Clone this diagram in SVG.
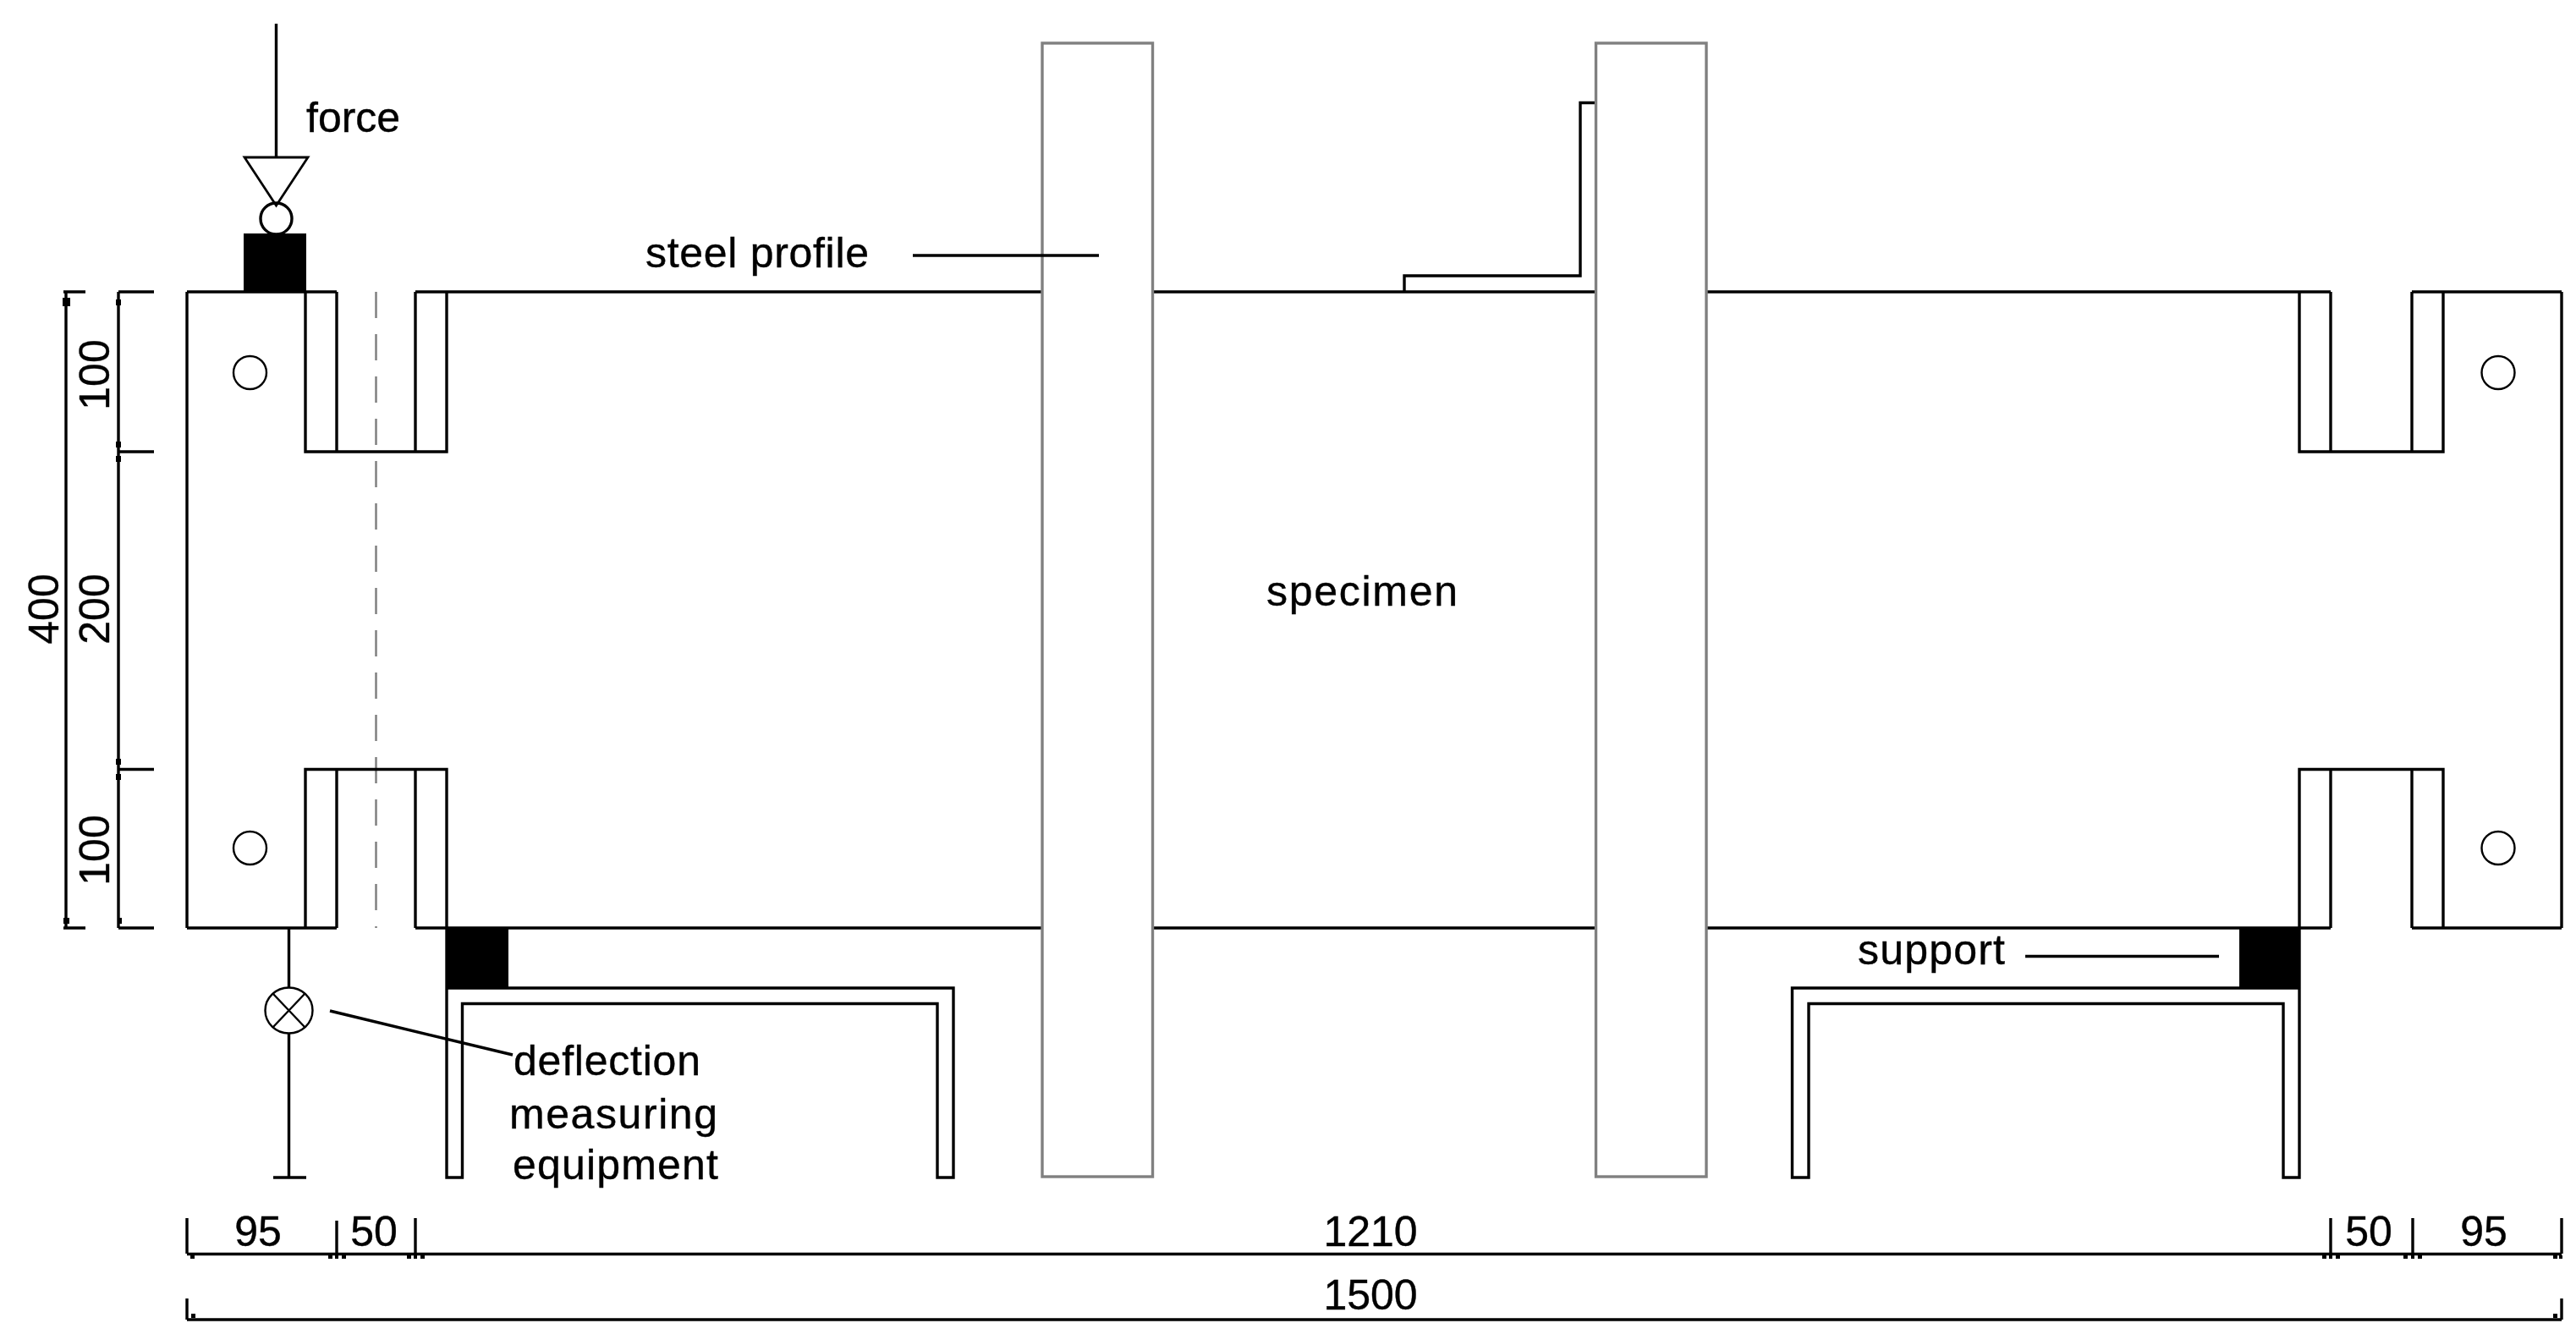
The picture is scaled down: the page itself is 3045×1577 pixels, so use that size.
<svg xmlns="http://www.w3.org/2000/svg" width="3045" height="1577" viewBox="0 0 3045 1577">
<style>
text{font-family:"Liberation Sans",Arial,sans-serif;font-size:50px;fill:#000;stroke:#000;stroke-width:.4}
.l{fill:none;stroke:#000;stroke-width:3.4}
.t{fill:none;stroke:#000;stroke-width:2.4}
.k{fill:#000;stroke:none}
.col{fill:#fff;stroke:#808080;stroke-width:3.4}
.cl{fill:none;stroke:#808080;stroke-width:2.5;stroke-dasharray:31 19}
</style>
<rect width="3045" height="1577" fill="#fff"/>
<g id="connectors">
<path id="centre-line" class="cl" d="M444.5 345V1097"/>
<path id="force-line" class="l" d="M326.5 28V186"/>
<path id="deflection-stem" class="l" d="M341.500 1097V1168M341.500 1222V1392M323 1392H362"/>
<path id="deflection-leader" class="l" d="M390 1195L606 1247"/>
<path id="support-leader" class="l" d="M2394 1130.500H2623"/>
</g>
<g id="specimen">
<path class="l" d="M221 345V1097M3028 345V1097
M221 345H398M491 345H1232M1362 345H1887M2017 345H2755M2851 345H3028
M221 1097H398M491 1097H1232M1362 1097H1887M2017 1097H2755M2851 1097H3028
M361 345V534H528V345M398 345V534M491 345V534
M361 1097V909.500H528V1097M398 1097V909.500M491 1097V909.500
M2718 345V534H2888V345M2755 345V534M2851 345V534
M2718 1097V909.500H2888V1097M2755 1097V909.500M2851 1097V909.500"/>
<circle class="t" cx="295.500" cy="440.500" r="19.500"/>
<circle class="t" cx="295.500" cy="1002.500" r="19.500"/>
<circle class="t" cx="2953" cy="440.500" r="19.500"/>
<circle class="t" cx="2953" cy="1002.500" r="19.500"/>
</g>
<g id="steel-angle"><path class="l" d="M1660 345V326H1868V121.500H1887"/></g>
<g id="steel-profile-left"><rect class="col" x="1232" y="51" width="130.500" height="1340"/></g>
<g id="steel-profile-right"><rect class="col" x="1886.500" y="51" width="130.500" height="1340"/></g>
<path id="steel-profile-leader" class="l" d="M1079 302H1299"/>
<g id="force-head">
<path class="t" style="stroke-width:2.800" d="M289 186H364L326.500 243Z"/>
<circle class="l" cx="326.500" cy="258.500" r="18.500"/>
<rect class="k" x="288" y="276" width="74" height="70"/>
</g>
<g id="deflection-gauge">
<ellipse class="t" cx="341.500" cy="1194.500" rx="28" ry="27"/>
<path class="t" d="M322 1174L361 1215M361 1174L322 1215"/>
</g>
<g id="support-left">
<rect class="k" x="528" y="1097" width="73" height="71"/>
<path class="l" d="M528 1097V1392H546.500V1186.500H1108V1392H1127V1168H528"/>
</g>
<g id="support-right">
<rect class="k" x="2647" y="1097" width="71" height="71"/>
<path class="l" d="M2718 1097V1392H2699V1186.500H2138V1392H2118.500V1168H2718"/>
</g>
<g id="dimensions">
<path class="l" d="M78 345V1097M75 345H101M75 1097H101M140 345V1097M140 345H182M140 534H182M140 909.500H182M140 1097H182"/>
<path class="l" d="M221 1482.500H3028M221 1560H3028M221 1440V1482M398 1443V1482M491 1440V1482M2755 1440V1482M2852 1440V1482M3028 1440V1482M221 1535V1560M3028 1535V1560"/>
<g class="k">
<rect x="74" y="352" width="9" height="10"/><rect x="137" y="354" width="6" height="7"/>
<rect x="137" y="522" width="6" height="7"/><rect x="137" y="539" width="6" height="7"/>
<rect x="137" y="897" width="6" height="7"/><rect x="137" y="915" width="6" height="7"/>
<rect x="75" y="1085" width="7" height="7"/><rect x="139" y="1085" width="5" height="7"/>
<rect x="225" y="1484" width="5" height="4"/><rect x="388" y="1484" width="5" height="4"/><rect x="396" y="1484" width="4" height="4"/><rect x="404" y="1484" width="5" height="4"/>
<rect x="481" y="1484" width="5" height="4"/><rect x="489" y="1484" width="4" height="4"/><rect x="497" y="1484" width="5" height="4"/>
<rect x="2745" y="1484" width="5" height="4"/><rect x="2753" y="1484" width="4" height="4"/><rect x="2761" y="1484" width="5" height="4"/>
<rect x="2841" y="1484" width="5" height="4"/><rect x="2850" y="1484" width="4" height="4"/><rect x="2858" y="1484" width="5" height="4"/>
<rect x="3018" y="1484" width="5" height="4"/><rect x="3025" y="1484" width="4" height="4"/>
<rect x="226" y="1553" width="5" height="5"/><rect x="3018" y="1553" width="5" height="5"/>
</g>
<text x="305" y="1473" text-anchor="middle">95</text>
<text x="442" y="1473" text-anchor="middle">50</text>
<text x="1620" y="1473" text-anchor="middle">1210</text>
<text x="2800" y="1473" text-anchor="middle">50</text>
<text x="2936" y="1473" text-anchor="middle">95</text>
<text x="1620" y="1548" text-anchor="middle">1500</text>
<text transform="translate(129 443) rotate(-90)" text-anchor="middle">100</text>
<text transform="translate(129 720) rotate(-90)" text-anchor="middle">200</text>
<text transform="translate(129 1005) rotate(-90)" text-anchor="middle">100</text>
<text transform="translate(69 720) rotate(-90)" text-anchor="middle">400</text>
</g>
<g id="labels">
<text x="362" y="156">force</text>
<text x="763" y="316" textLength="264" lengthAdjust="spacing">steel profile</text>
<text x="1497" y="716" textLength="226" lengthAdjust="spacing">specimen</text>
<text x="2196" y="1140" textLength="174" lengthAdjust="spacing">support</text>
<text x="607" y="1271" textLength="221" lengthAdjust="spacing">deflection</text>
<text x="602" y="1334" textLength="246" lengthAdjust="spacing">measuring</text>
<text x="606" y="1394" textLength="243" lengthAdjust="spacing">equipment</text>
</g>
</svg>
